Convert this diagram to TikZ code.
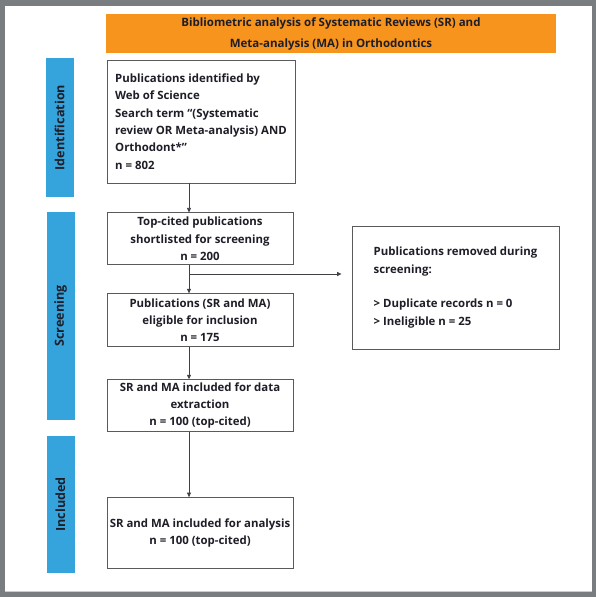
\documentclass[tikz,border=0pt]{standalone}
\usepackage{fontspec}
\setmainfont{Open Sans}
\usetikzlibrary{arrows.meta, positioning}
\definecolor{framegray}{HTML}{7A7D80}
\definecolor{bannerorange}{HTML}{F7941D}
\definecolor{stageblue}{HTML}{35A4DC}
\definecolor{textdark}{HTML}{1E1E28}
\definecolor{boxgray}{HTML}{5A5A5A}

\begin{document}
\begin{tikzpicture}[
        x=1pt, y=1pt,
        banner/.style={rectangle, fill=bannerorange, text=textdark, align=center,
                       minimum width=450pt, minimum height=39pt, inner sep=0pt,
                       font=\bfseries\fontsize{11.5}{21}\selectfont},
        stage/.style={rectangle, fill=stageblue, text=textdark, rotate=90,
                      minimum height=28pt, inner sep=0pt,
                      font=\bfseries\fontsize{12.6}{14}\selectfont},
        flowbox/.style={rectangle, draw=boxgray, line width=0.9pt, fill=white,
                        text=textdark, align=center, inner sep=0pt,
                        minimum width=186pt, minimum height=52pt,
                        font=\bfseries\fontsize{11.4}{17.3}\selectfont},
        link/.style={draw=textdark!85, line width=0.7pt,
                     -{Triangle[length=4.5pt, width=4pt]}},
        node distance=29pt]
      \useasboundingbox (0,0) rectangle (596,-597);
      \fill[framegray] (0,0) rectangle (596,-597);
      \fill[white] (5,-6) rectangle (592,-591);
      \draw[gray!40, line width=0.6pt] (5,-591) -- (592,-591);

      \node[banner] (title) at (331,-33.5) {Bibliometric analysis of Systematic Reviews (SR) and\\
                                              Meta-analysis (MA) in Orthodontics};

      \node[stage, minimum width=139pt] (identification) at (59.5,-127.5) {Identification};
      \node[stage, minimum width=208pt] (screening) at (60.5,-316) {Screening};
      \node[stage, minimum width=137pt] (included) at (60.5,-504.5) {Included};

      \node[flowbox, align=left, minimum width=188pt, minimum height=123pt]
            (identified) at (201,-121.5) {Publications identified by\\ Web of Science\\
            Search term “(Systematic\\ review OR Meta-analysis) AND\\ Orthodont*”\\ n = 802};
      \node[flowbox, below=29pt of identified.south west, anchor=north west] (shortlisted)
            {Top-cited publications\\ shortlisted for screening\\ n = 200};
      \node[flowbox, below=28pt of shortlisted.south west, anchor=north west, minimum height=53pt]
            (eligible) {Publications (SR and MA)\\ eligible for inclusion\\ n = 175};
      \node[flowbox, below=32pt of eligible.south west, anchor=north west] (extraction)
            {SR and MA included for data\\ extraction\\ n = 100 (top-cited)};
      \node[flowbox, below=65pt of extraction.south west, anchor=north west, minimum height=71pt]
            (analysis) {SR and MA included for analysis\\ n = 100 (top-cited)};

      \node[flowbox, align=left, minimum width=207pt, minimum height=123pt]
            (removed) at (455.5,-287.5) {Publications removed during\\ screening:\\[17.3pt]
            > Duplicate records n = 0\\ > Ineligible n = 25};

      \coordinate (spine) at (189,0);
      \coordinate (split) at (189,-274);
      \draw[link] (spine |- identified.south) -- (spine |- shortlisted.north);
      \draw[link] (spine |- shortlisted.south) -- (spine |- eligible.north);
      \draw[link] (spine |- eligible.south) -- (spine |- extraction.north);
      \draw[link] (spine |- extraction.south) -- (spine |- analysis.north);
      \draw[link, shorten >=10pt] (split) -- (split -| removed.west);
    \end{tikzpicture}
\end{document}
